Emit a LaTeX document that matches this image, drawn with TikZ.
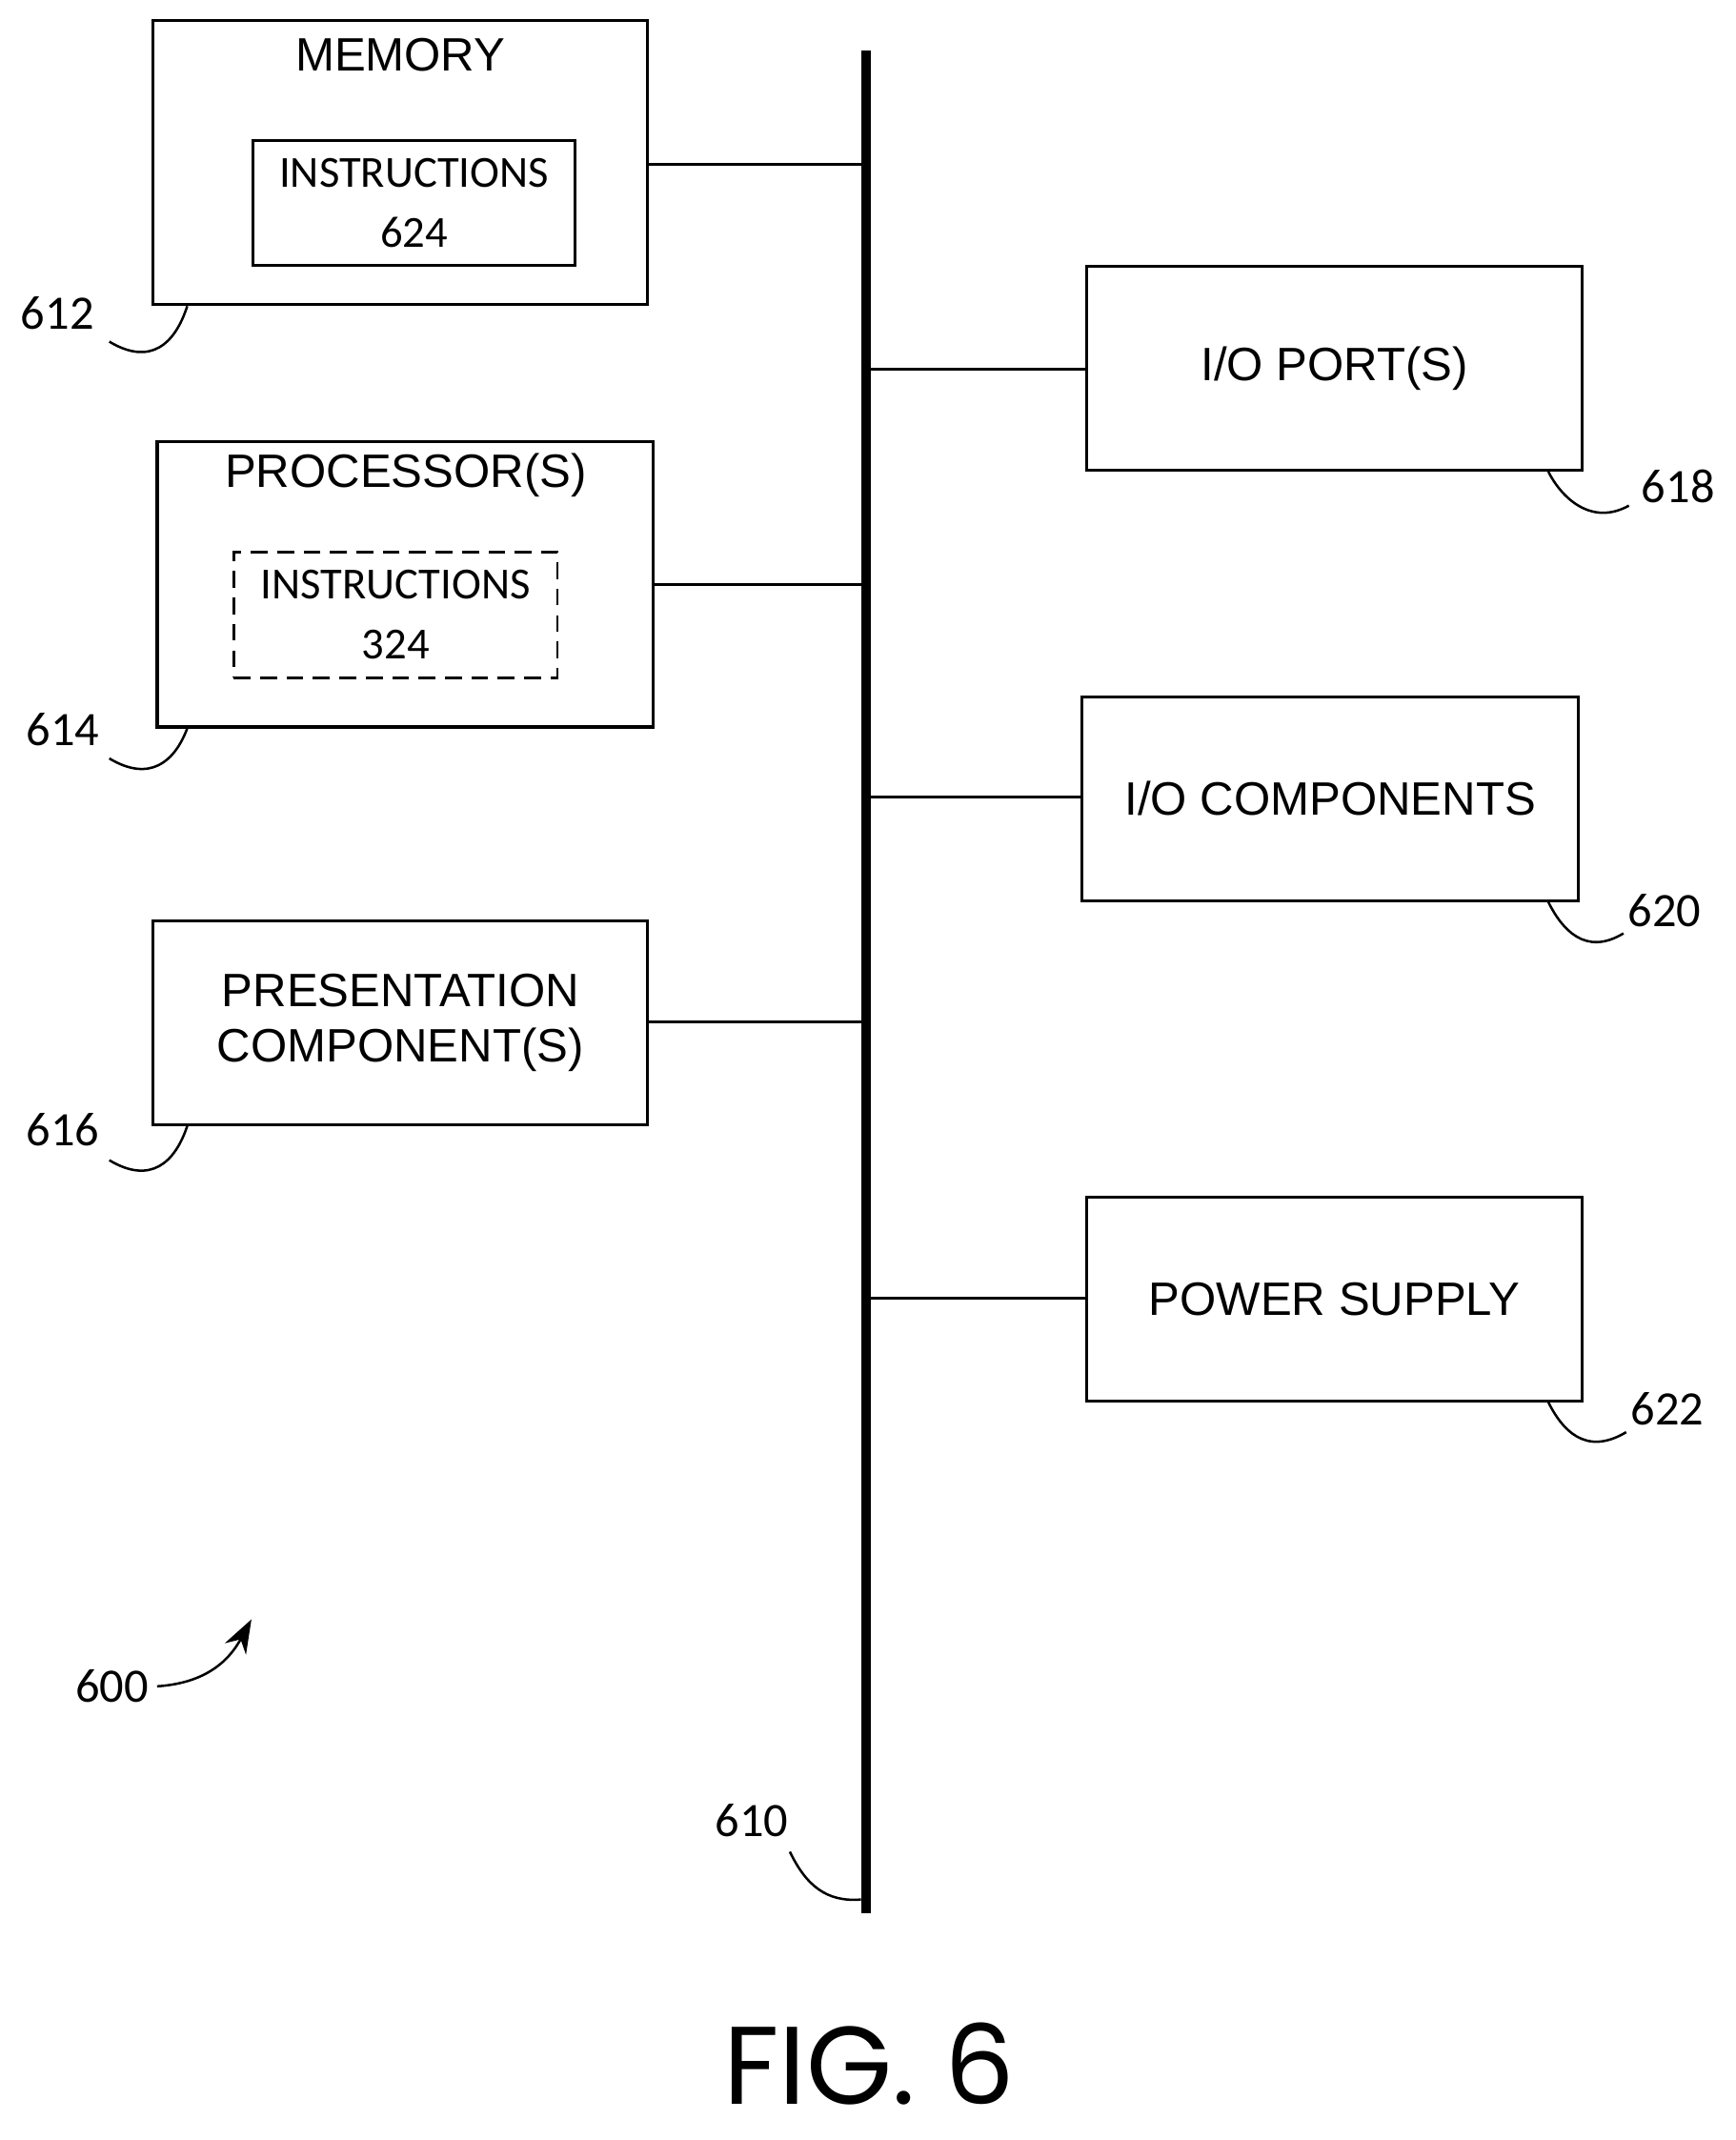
\documentclass[tikz,border=0pt]{standalone}
\usepackage{fontspec}
\setmainfont{Liberation Sans}
\newfontfamily\numfont{Carlito}
\newfontfamily\figfont{Poppins}
\usetikzlibrary{arrows.meta}
\tikzset{
  box/.style={draw, line width=1.2pt, inner sep=0pt},
  lbl/.style={font=\numfont\fontsize{20}{20}\selectfont},
  hook/.style={line width=1pt},
  link/.style={line width=1.2pt}
}
\begin{document}
\begin{tikzpicture}[x=0.02cm, y=-0.02cm]
\useasboundingbox (0,0) rectangle (1270,1566);

% bus
\node[inner sep=0pt] (bt) at (634,37) {};
\node[inner sep=0pt] (bb) at (634,1400) {};
\draw[line width=4pt] (bt.center) -- (bb.center);

% left side
\node[box, minimum width=7.24cm, minimum height=4.16cm] (mem) at (293,119) {};
\node[font=\fontsize{19.5}{19.5}\selectfont] (memt) at (293,40) {MEMORY};
\node[box, minimum width=4.72cm, minimum height=1.82cm, align=center, font=\numfont\fontsize{18.5}{25}\selectfont] (ins1) at (303,148.5) {INSTRUCTIONS\\624};

\node[box, minimum width=7.26cm, minimum height=4.18cm] (proc) at (296.5,427.5) {};
\node[font=\fontsize{19.5}{19.5}\selectfont] (proct) at (297,348) {PROCESSOR(S)};
\node[box, dash pattern=on 7pt off 4pt, line width=1pt, minimum width=4.74cm, minimum height=1.84cm, align=center, font=\numfont\fontsize{18.5}{25}\selectfont] (ins2) at (289.5,450) {INSTRUCTIONS\\324};

\node[box, minimum width=7.24cm, minimum height=2.98cm, align=center, font=\fontsize{19.5}{23}\selectfont] (pres) at (293,748.5) {PRESENTATION\\COMPONENT(S)};

% right side
\node[box, minimum width=7.26cm, minimum height=2.98cm, font=\fontsize{19.5}{19.5}\selectfont] (port) at (976.5,269.5) {I/O PORT(S)};
\node[box, minimum width=7.26cm, minimum height=2.98cm, font=\fontsize{19.5}{19.5}\selectfont] (comp) at (973.5,584.5) {I/O COMPONENTS};
\node[box, minimum width=7.26cm, minimum height=2.98cm, font=\fontsize{19.5}{19.5}\selectfont] (pwr) at (976.5,950.5) {POWER SUPPLY};

% links to bus
\draw[link] (mem.east |- 0,120) -- (634,120);
\draw[link] (proc.east |- 0,428) -- (634,428);
\draw[link] (pres.east |- 0,748) -- (634,748);
\draw[link] (634,270) -- (port.west |- 0,270);
\draw[link] (634,583) -- (comp.west |- 0,583);
\draw[link] (634,950) -- (pwr.west |- 0,950);

% reference numerals
\node[lbl] (n612) at (42,229) {612};
\draw[hook] (80,250) .. controls (110,268) and (128,252) .. (mem.south west -| 137,0);
\node[lbl] (n614) at (46,534) {614};
\draw[hook] (80,555) .. controls (110,573) and (128,557) .. (proc.south west -| 137,0);
\node[lbl] (n616) at (46,827) {616};
\draw[hook] (80,849) .. controls (110,867) and (128,851) .. (pres.south west -| 137,0);

\node[lbl] (n618) at (1228,356) {618};
\draw[hook] (port.south east -| 1133,0) .. controls (1143,365) and (1165,385) .. (1192,370);
\node[lbl] (n620) at (1218,666) {620};
\draw[hook] (comp.south east -| 1133,0) .. controls (1143,680) and (1160,700) .. (1188,683);
\node[lbl] (n622) at (1220,1031) {622};
\draw[hook] (pwr.south east -| 1133,0) .. controls (1143,1046) and (1160,1066) .. (1190,1048);

\node[lbl] (n610) at (550,1332) {610};
\draw[hook] (578,1355) .. controls (590,1380) and (605,1392) .. (630,1390);

\node[lbl] (n600) at (82,1234) {600};
\draw[hook, -{Stealth[length=14pt, width=10pt]}] (n600.east) .. controls (145,1232) and (165,1220) .. (184,1185);

\node[inner sep=0pt, font=\figfont\fontsize{46}{46}\selectfont] (fig) at (636,1510) {FIG. 6};
\end{tikzpicture}
\end{document}
